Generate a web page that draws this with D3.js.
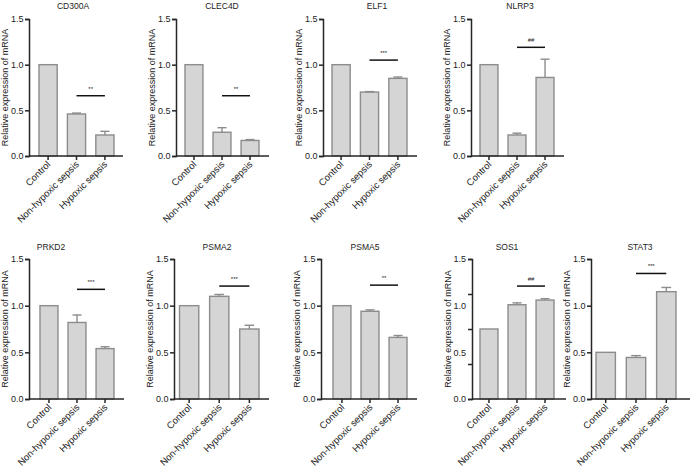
<!DOCTYPE html>
<html>
<head>
<meta charset="utf-8">
<script src="https://cdn.jsdelivr.net/npm/d3@7"></script>
<style>
  html, body { margin: 0; padding: 0; background: #fff; }
  svg { display: block; }
  text { font-family: "Liberation Sans", Arial, Helvetica, sans-serif; fill: #222; }
</style>
</head>
<body>
<script>
// ---------- data ----------
const genes = ["CD300A", "CLEC4D", "ELF1", "NLRP3", "PRKD2", "PSMA2", "PSMA5", "SOS1", "STAT3"];
const categories = ["Control", "Non-hypoxic sepsis", "Hypoxic sepsis"];
const controlValues    = [1.00, 1.00, 1.00, 1.00, 1.00, 1.00, 1.00, 0.75, 0.50];
const nonHypoxicValues = [0.46, 0.26, 0.70, 0.23, 0.82, 1.10, 0.94, 1.01, 0.445];
const hypoxicValues    = [0.23, 0.17, 0.85, 0.86, 0.54, 0.75, 0.66, 1.06, 1.15];
const controlErrors    = [0, 0, 0, 0, 0, 0, 0, 0, 0];
const nonHypoxicErrors = [0.01, 0.05, 0.005, 0.02, 0.08, 0.02, 0.015, 0.02, 0.02];
const hypoxicErrors    = [0.04, 0.01, 0.015, 0.20, 0.02, 0.04, 0.02, 0.015, 0.045];
const sigLabels = ["**", "**", "***", "##", "***", "***", "**", "##", "***"];
const sigLevels = [0.66, 0.66, 1.05, 1.19, 1.175, 1.21, 1.22, 1.21, 1.345];
const yTickLabels = [0, 0.5, 1.0, 1.5];
const sos1TickMarks = [0, 0.375, 0.75, 1.125, 1.5];
const yMax = 1.5;
const yTitle = "Relative expression of mRNA";

// ---------- layout (pixel positions of each panel) ----------
// [axisX, axisEnd, barStart, barEnd, titleX, row]
const layout = [
  [29, 123, 39, 114, 73, 0],
  [176, 269, 185, 259, 222, 0],
  [323, 417, 332, 407, 377, 0],
  [471, 564, 480, 554, 520, 0],
  [29, 124, 40, 114, 51, 1],
  [174, 269, 179.5, 259, 217, 1],
  [321, 417, 333, 407, 365, 1],
  [472, 566, 480, 554, 507, 1],
  [591, 690, 596, 676, 640, 1]
];
const rows = [
  { top: 19, bottom: 156, titleY: 9 },
  { top: 259, bottom: 399, titleY: 250 }
];

const W = 692, H = 472;
const svg = d3.select("body").append("svg").attr("width", W).attr("height", H);

const axisColor = "#262626";
const barFill = "#d5d5d5";
const barStroke = "#8c8c8c";

genes.forEach((gene, i) => {
  const [axisX, axisEnd, barStart, barEnd, titleX, rowIdx] = layout[i];
  const row = rows[rowIdx];
  const values = [controlValues[i], nonHypoxicValues[i], hypoxicValues[i]];
  const errors = [controlErrors[i], nonHypoxicErrors[i], hypoxicErrors[i]];
  const data = categories.map((c, k) => ({ cat: c, v: values[k], e: errors[k] }));

  const x = d3.scaleBand().domain(categories).range([barStart, barEnd])
    .paddingInner(0.36).paddingOuter(0);
  const y = d3.scaleLinear().domain([0, yMax]).range([row.bottom, row.top]);

  const g = svg.append("g");

  // bars
  g.selectAll("rect.bar").data(data).join("rect")
    .attr("class", "bar")
    .attr("x", d => x(d.cat))
    .attr("width", x.bandwidth())
    .attr("y", d => y(d.v))
    .attr("height", d => y(0) - y(d.v))
    .attr("fill", barFill)
    .attr("stroke", barStroke)
    .attr("stroke-width", 1.4);

  // error bars (upper only)
  const errData = data.filter(d => d.e > 0);
  const capW = x.bandwidth() * 0.5;
  g.selectAll("line.err").data(errData).join("line")
    .attr("x1", d => x(d.cat) + x.bandwidth() / 2)
    .attr("x2", d => x(d.cat) + x.bandwidth() / 2)
    .attr("y1", d => y(d.v))
    .attr("y2", d => y(d.v + d.e))
    .attr("stroke", barStroke).attr("stroke-width", 1.4);
  g.selectAll("line.cap").data(errData).join("line")
    .attr("x1", d => x(d.cat) + x.bandwidth() / 2 - capW / 2)
    .attr("x2", d => x(d.cat) + x.bandwidth() / 2 + capW / 2)
    .attr("y1", d => y(d.v + d.e))
    .attr("y2", d => y(d.v + d.e))
    .attr("stroke", barStroke).attr("stroke-width", 1.4);

  // y axis
  const yAxisG = g.append("g").attr("transform", `translate(${axisX},0)`);
  if (gene === "SOS1") {
    yAxisG.call(d3.axisLeft(y).tickValues(sos1TickMarks).tickSize(4).tickFormat(""));
    const lab = g.append("g").attr("transform", `translate(${axisX},0)`)
      .call(d3.axisLeft(y).tickValues(yTickLabels).tickSize(0).tickPadding(6).tickFormat(d3.format(".1f")));
    lab.select(".domain").remove();
    lab.selectAll("text").attr("font-size", 9).attr("fill", "#222")
      .attr("font-family", "'Liberation Sans', Arial, sans-serif");
  } else {
    yAxisG.call(d3.axisLeft(y).tickValues(yTickLabels).tickSize(4).tickPadding(1.5).tickFormat(d3.format(".1f")));
  }
  yAxisG.select(".domain").attr("stroke", axisColor).attr("stroke-width", 1.5);
  yAxisG.selectAll(".tick line").attr("stroke", axisColor).attr("stroke-width", 1.5);
  yAxisG.selectAll("text").attr("font-size", 9).attr("fill", "#222")
    .attr("font-family", "'Liberation Sans', Arial, sans-serif");

  // x axis
  const xAxisG = g.append("g").attr("transform", `translate(0,${row.bottom})`)
    .call(d3.axisBottom(x).tickSize(4).tickSizeOuter(0).tickFormat(""));
  xAxisG.select(".domain").remove();
  xAxisG.append("line")
    .attr("x1", axisX).attr("x2", axisEnd).attr("y1", 0).attr("y2", 0)
    .attr("stroke", axisColor).attr("stroke-width", 1.5);
  xAxisG.selectAll(".tick line").attr("stroke", axisColor).attr("stroke-width", 1.5);

  // rotated category labels
  g.selectAll("text.cat").data(categories).join("text")
    .attr("class", "cat")
    .attr("text-anchor", "end")
    .attr("font-size", 9.5)
    .attr("transform", c => `translate(${x(c) + x.bandwidth() / 2 + 3},${row.bottom + 9}) rotate(-45)`)
    .text(c => c);

  // y axis title
  g.append("text")
    .attr("text-anchor", "middle")
    .attr("font-size", 9)
    .attr("transform", `translate(${axisX - 21},${(row.top + row.bottom) / 2}) rotate(-90)`)
    .text(yTitle);

  // panel title
  g.append("text")
    .attr("x", titleX).attr("y", row.titleY)
    .attr("text-anchor", "middle")
    .attr("font-size", 8.5)
    .text(gene);

  // significance bracket
  const sx1 = x(categories[1]) + x.bandwidth() / 2;
  const sx2 = x(categories[2]) + x.bandwidth() / 2;
  const sy = y(sigLevels[i]);
  g.append("line")
    .attr("x1", sx1).attr("x2", sx2).attr("y1", sy).attr("y2", sy)
    .attr("stroke", "#111").attr("stroke-width", 1.5);
  g.append("text")
    .attr("x", (sx1 + sx2) / 2).attr("y", sy - 5)
    .attr("text-anchor", "middle")
    .attr("font-size", 6)
    .text(sigLabels[i]);
});
</script>
</body>
</html>
